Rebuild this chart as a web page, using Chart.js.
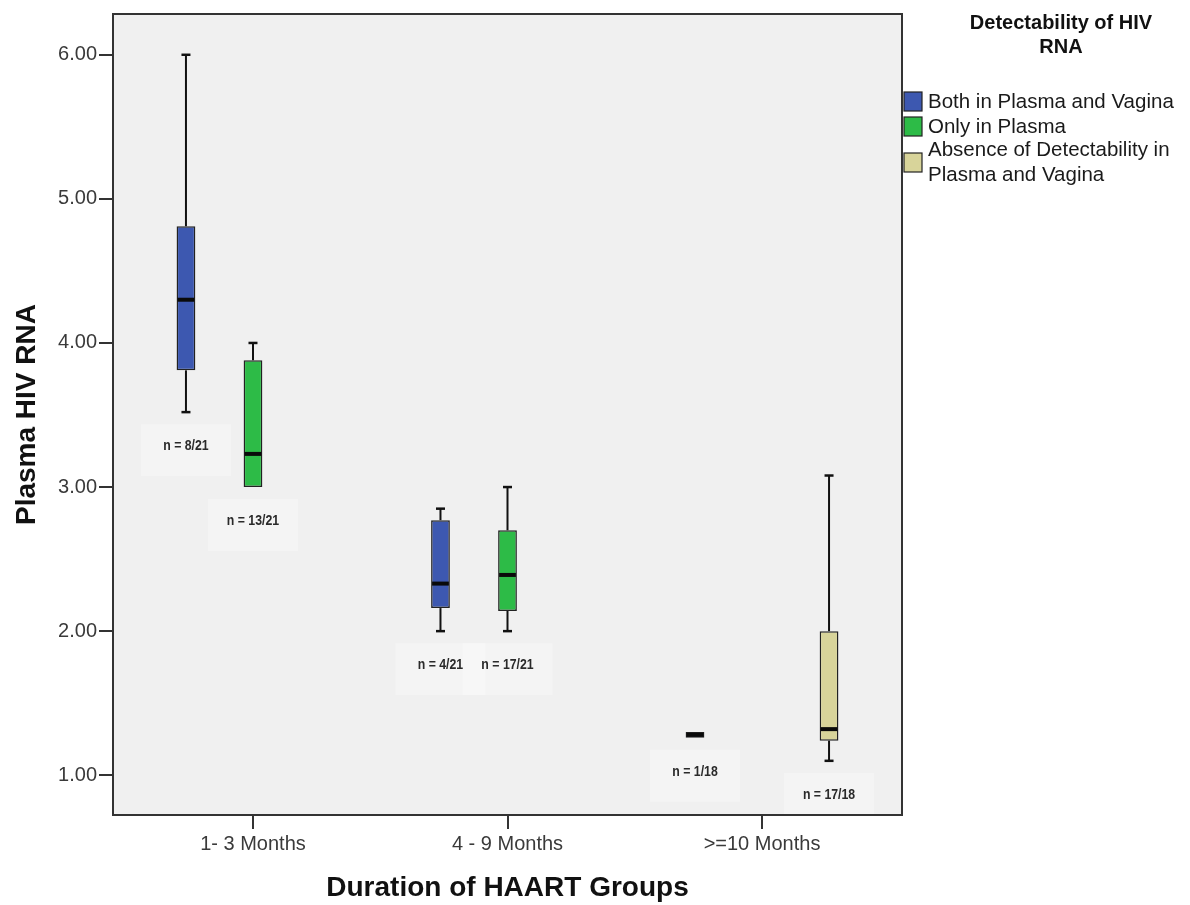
<!DOCTYPE html>
<html>
<head>
<meta charset="utf-8">
<script src="https://cdn.jsdelivr.net/npm/chart.js@4/dist/chart.umd.min.js"></script>
<style>
  html, body { margin: 0; padding: 0; background: #ffffff; }
  #wrap { width: 1190px; height: 905px; }
</style>
</head>
<body>
<div id="wrap"><canvas id="c" width="1190" height="905"></canvas></div>
<script>
// ---------- data ----------
const categories = ['1- 3 Months', '4 - 9 Months', '>=10 Months'];
const seriesNames = ['Both in Plasma and Vagina', 'Only in Plasma', 'Absence of Detectability in Plasma and Vagina'];
const legendTitle = ['Detectability of HIV', 'RNA'];
const yTicks = [1, 2, 3, 4, 5, 6];

// Both in Plasma and Vagina
const bothMin    = [3.52, 2.00, 1.26];
const bothQ1     = [3.81, 2.16, 1.26];
const bothMedian = [4.30, 2.33, 1.28];
const bothQ3     = [4.81, 2.77, 1.30];
const bothMax    = [6.00, 2.85, 1.30];
const bothN      = ['n = 8/21', 'n = 4/21', 'n = 1/18'];

// Only in Plasma
const plasmaMin    = [3.00, 2.00, null];
const plasmaQ1     = [3.00, 2.14, null];
const plasmaMedian = [3.23, 2.39, null];
const plasmaQ3     = [3.88, 2.70, null];
const plasmaMax    = [4.00, 3.00, null];
const plasmaN      = ['n = 13/21', 'n = 17/21', null];

// Absence of Detectability in Plasma and Vagina
const absentMin    = [null, null, 1.10];
const absentQ1     = [null, null, 1.24];
const absentMedian = [null, null, 1.32];
const absentQ3     = [null, null, 2.00];
const absentMax    = [null, null, 3.08];
const absentN      = [null, null, 'n = 17/18'];

const seriesColors = ['#3d58b0', '#2dbb47', '#d8d49a'];

// ---------- build ----------
const stats = [
  { min: bothMin, q1: bothQ1, med: bothMedian, q3: bothQ3, max: bothMax, n: bothN },
  { min: plasmaMin, q1: plasmaQ1, med: plasmaMedian, q3: plasmaQ3, max: plasmaMax, n: plasmaN },
  { min: absentMin, q1: absentQ1, med: absentMedian, q3: absentQ3, max: absentMax, n: absentN }
];

function boxData(s) {
  const out = [];
  categories.forEach((c, i) => {
    if (s.q1[i] != null) out.push({ x: i, y: [s.q1[i], s.q3[i]] });
  });
  return out;
}

const datasets = stats.map((s, d) => ({
  label: seriesNames[d],
  data: boxData(s),
  backgroundColor: seriesColors[d],
  borderColor: '#222222',
  borderWidth: 1.5,
  borderSkipped: false,
  categoryPercentage: 0.79,
  barPercentage: 0.28
}));

const FONT = '"Liberation Sans", Arial, sans-serif';

const boxPlugin = {
  id: 'boxPlugin',
  beforeDraw(chart) {
    const { ctx, chartArea: a } = chart;
    ctx.save();
    ctx.fillStyle = '#f0f0f0';
    ctx.fillRect(a.left, a.top, a.right - a.left, a.bottom - a.top);
    ctx.restore();
  },
  beforeDatasetsDraw(chart) {
    const { ctx } = chart;
    const y = chart.scales.y;
    ctx.save();
    // faint label backgrounds
    chart.data.datasets.forEach((ds, d) => {
      const meta = chart.getDatasetMeta(d);
      const s = stats[d];
      meta.data.forEach((el, j) => {
        const i = ds.data[j].x;
        if (!s.n[i]) return;
        const ly = y.getPixelForValue(s.min[i]) + 34;
        ctx.fillStyle = 'rgba(255,255,255,0.28)';
        ctx.fillRect(el.x - 45, ly - 22, 90, 52);
      });
    });
    // whiskers
    ctx.strokeStyle = '#111111';
    chart.data.datasets.forEach((ds, d) => {
      const meta = chart.getDatasetMeta(d);
      const s = stats[d];
      meta.data.forEach((el, j) => {
        const i = ds.data[j].x;
        const x = el.x;
        const pMax = y.getPixelForValue(s.max[i]);
        const pQ3 = y.getPixelForValue(s.q3[i]);
        const pQ1 = y.getPixelForValue(s.q1[i]);
        const pMin = y.getPixelForValue(s.min[i]);
        ctx.lineWidth = 2;
        if (s.max[i] > s.q3[i]) {
          ctx.beginPath(); ctx.moveTo(x, pMax); ctx.lineTo(x, pQ3); ctx.stroke();
          ctx.lineWidth = 2.5;
          ctx.beginPath(); ctx.moveTo(x - 4.5, pMax); ctx.lineTo(x + 4.5, pMax); ctx.stroke();
        }
        ctx.lineWidth = 2;
        if (s.min[i] < s.q1[i]) {
          ctx.beginPath(); ctx.moveTo(x, pQ1); ctx.lineTo(x, pMin); ctx.stroke();
          ctx.lineWidth = 2.5;
          ctx.beginPath(); ctx.moveTo(x - 4.5, pMin); ctx.lineTo(x + 4.5, pMin); ctx.stroke();
        }
      });
    });
    ctx.restore();
  },
  afterDatasetsDraw(chart) {
    const { ctx, chartArea: a } = chart;
    const y = chart.scales.y;
    ctx.save();
    chart.data.datasets.forEach((ds, d) => {
      const meta = chart.getDatasetMeta(d);
      const s = stats[d];
      meta.data.forEach((el, j) => {
        const i = ds.data[j].x;
        const pMed = y.getPixelForValue(s.med[i]);
        const hw = el.width / 2;
        // median
        ctx.strokeStyle = '#0a0a0a';
        ctx.lineWidth = 4;
        ctx.beginPath(); ctx.moveTo(el.x - hw + 1, pMed); ctx.lineTo(el.x + hw - 1, pMed); ctx.stroke();
        // n label (condensed)
        if (s.n[i]) {
          const ly = y.getPixelForValue(s.min[i]) + 34;
          ctx.save();
          ctx.translate(el.x, ly);
          ctx.scale(0.82, 1);
          ctx.fillStyle = '#2a2a2a';
          ctx.font = 'bold 15px ' + FONT;
          ctx.textAlign = 'center';
          ctx.textBaseline = 'middle';
          ctx.fillText(s.n[i], 0, 0);
          ctx.restore();
        }
      });
    });
    // plot border
    ctx.strokeStyle = '#333333';
    ctx.lineWidth = 2;
    ctx.strokeRect(a.left, a.top, a.right - a.left, a.bottom - a.top);
    ctx.restore();
  },
  afterDraw(chart) {
    const { ctx } = chart;
    ctx.save();
    ctx.fillStyle = '#111111';
    ctx.font = 'bold 20px ' + FONT;
    ctx.textAlign = 'center';
    ctx.textBaseline = 'middle';
    ctx.fillText(legendTitle[0], 1061, 23);
    ctx.fillText(legendTitle[1], 1061, 47);
    const rows = [
      { y: 92, lines: [seriesNames[0]] },
      { y: 117, lines: [seriesNames[1]] },
      { y: 153, lines: ['Absence of Detectability in', 'Plasma and Vagina'] }
    ];
    ctx.font = '20.5px ' + FONT;
    ctx.textAlign = 'left';
    rows.forEach((r, d) => {
      ctx.fillStyle = chart.data.datasets[d].backgroundColor;
      ctx.fillRect(904, r.y, 18, 19);
      ctx.strokeStyle = '#222222';
      ctx.lineWidth = 1.2;
      ctx.strokeRect(904, r.y, 18, 19);
      ctx.fillStyle = '#1a1a1a';
      if (r.lines.length === 1) {
        ctx.fillText(r.lines[0], 928, r.y + 10);
      } else {
        ctx.fillText(r.lines[0], 928, r.y - 3);
        ctx.fillText(r.lines[1], 928, r.y + 22);
      }
    });
    ctx.restore();
  }
};

new Chart(document.getElementById('c'), {
  type: 'bar',
  data: { datasets },
  options: {
    responsive: false,
    animation: false,
    events: [],
    layout: { padding: { top: 10, right: 288, left: 0, bottom: 0 } },
    plugins: { legend: { display: false }, tooltip: { enabled: false } },
    scales: {
      x: {
        type: 'linear',
        min: -0.55,
        max: 2.55,
        offset: false,
        afterBuildTicks: s => { s.ticks = categories.map((c, i) => ({ value: i })); },
        afterFit: s => { s.height = 90; },
        ticks: {
          callback: v => categories[v],
          color: '#3a3a3a',
          font: { family: FONT, size: 20 },
          padding: 3,
          maxRotation: 0,
          autoSkip: false
        },
        grid: { offset: false, drawOnChartArea: false, drawTicks: true, tickLength: 14, color: '#333333', lineWidth: 2 },
        border: { display: true, color: '#333333', width: 2 },
        title: {
          display: true,
          text: 'Duration of HAART Groups',
          color: '#111111',
          font: { family: FONT, size: 28, weight: 'bold' },
          padding: { top: 0, bottom: 0 }
        }
      },
      y: {
        type: 'linear',
        min: 0.724,
        max: 6.283,
        afterBuildTicks: s => { s.ticks = yTicks.map(v => ({ value: v })); },
        afterFit: s => { s.width = 113; },
        ticks: {
          callback: v => Number(v).toFixed(2),
          color: '#3a3a3a',
          font: { family: FONT, size: 20 },
          padding: 2
        },
        grid: { drawOnChartArea: false, drawTicks: true, tickLength: 14, color: '#333333', lineWidth: 2 },
        border: { display: true, color: '#333333', width: 2 },
        title: {
          display: true,
          text: 'Plasma HIV RNA',
          color: '#111111',
          font: { family: FONT, size: 28, weight: 'bold' },
          padding: { top: 10, bottom: 4 }
        }
      }
    }
  },
  plugins: [boxPlugin]
});
</script>
</body>
</html>
